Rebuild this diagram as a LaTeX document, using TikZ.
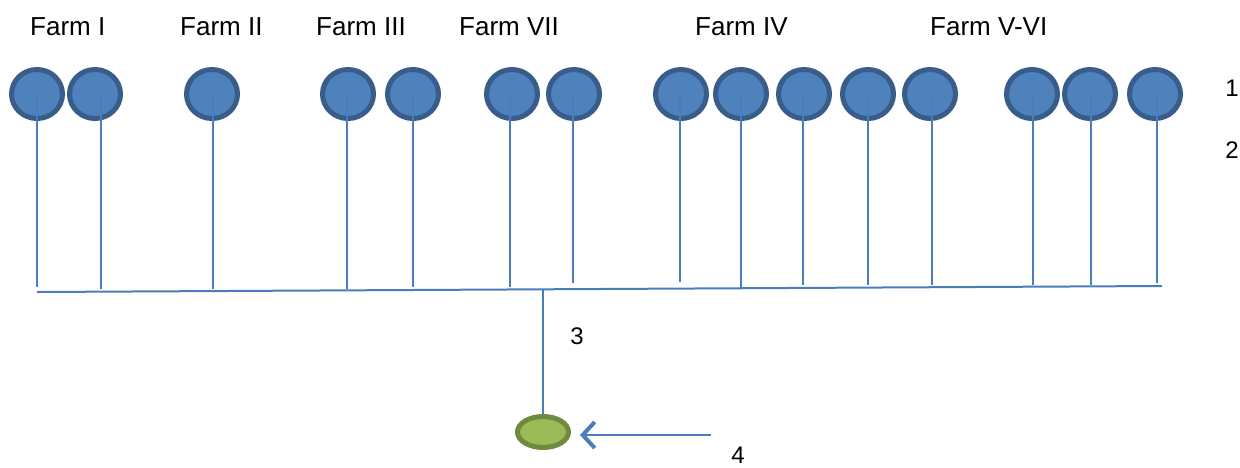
\documentclass[tikz,border=0pt]{standalone}
\usepackage{fontspec}
\setmainfont{Liberation Sans}
\usetikzlibrary{shapes.geometric,arrows.meta}
\definecolor{cfill}{HTML}{4F81BD}
\definecolor{cdraw}{HTML}{385D8A}
\definecolor{gfill}{HTML}{9BBB59}
\definecolor{gdraw}{HTML}{71893F}
\definecolor{pipe}{HTML}{4A7EBB}
\tikzset{
  farm/.style={ellipse,fill=cfill,draw=cdraw,line width=5pt,minimum width=51pt,minimum height=49pt,inner sep=0pt},
  sinknode/.style={ellipse,fill=gfill,draw=gdraw,line width=5pt,minimum width=51pt,minimum height=31pt,inner sep=0pt},
  pipeline/.style={draw=pipe,line width=2pt},
  lbl/.style={font=\fontsize{26}{30}\selectfont,inner sep=0pt,anchor=base west},
  num/.style={font=\fontsize{24}{28}\selectfont,inner sep=0pt},
  arr/.style={draw=pipe,line width=2pt,-{Straight Barb[length=12pt,width=26pt,line width=4pt]}}
}
\begin{document}
\begin{tikzpicture}[x=1pt,y=-1pt]
\useasboundingbox (0,0) rectangle (1240,467);
% labels
\node[lbl] (f1) at (30,35) {Farm I};
\node[lbl] (f2) at (180,35) {Farm II};
\node[lbl] (f3) at (316,35) {Farm III};
\node[lbl] (f7) at (459,35) {Farm VII};
\node[lbl] (f4) at (695,35) {Farm IV};
\node[lbl] (f5) at (930,35) {Farm V-VI};
% farms
\foreach \i/\cx in {1/37, 2/95, 3/212, 4/348, 5/413,
  6/512, 7/574, 8/681, 9/741, 10/804,
  11/868, 12/930, 13/1032, 14/1090, 15/1155}{
  \node[farm] (c\i) at (\cx,94) {};
}
% pipes
\foreach \i/\lx/\by in {1/37/287, 2/101/289, 3/213/289, 4/347/289, 5/413/287,
  6/510/287, 7/573/283, 8/680/282, 9/741/288, 10/803/285,
  11/868/285, 12/932/285, 13/1033/285, 14/1091/285, 15/1157/283}{
  \coordinate (t\i) at (\lx,96);
  \coordinate (b\i) at (\lx,\by);
  \draw[pipeline] (t\i) -- (b\i);
}
% main header
\coordinate (hl) at (37,292);
\coordinate (hr) at (1162,286);
\draw[pipeline] (hl) -- (hr);
\coordinate (hm) at (543,290);
\node[sinknode] (sink) at (543,432) {};
\draw[pipeline] (hm) -- (sink);
% arrow
\coordinate (astart) at (711,435);
\draw[arr,shorten >=9pt] (astart) -- (astart -| sink.east);
% numbers
\node[num] (n1) at (1232,88) {1};
\node[num] (n2) at (1232,150) {2};
\node[num] (n3) at (577,336) {3};
\node[num] (n4) at (738,455) {4};
\end{tikzpicture}
\end{document}
